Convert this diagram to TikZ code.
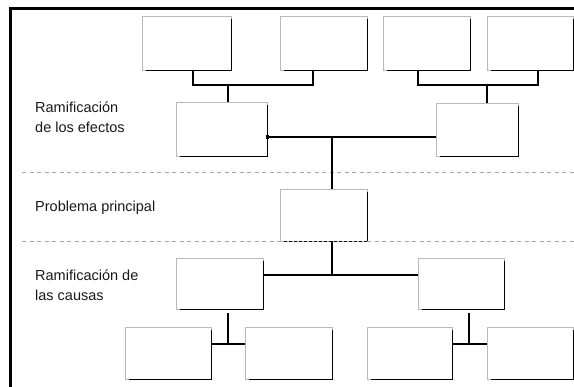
\documentclass[tikz,border=0pt]{standalone}
\usepackage{fontspec}
\setmainfont{Liberation Sans}
\begin{document}
\begin{tikzpicture}[x=1pt,y=-1pt,
  box/.style={draw=gray!55, line width=0.8pt, fill=white, inner sep=0pt,
              minimum width=87pt, minimum height=54pt},
  rim/.style={black, line width=1.3pt},
  conn/.style={black, line width=1.9pt},
  sep/.style={gray!70, line width=0.8pt, dash pattern=on 4pt off 3.5pt},
  lbl/.style={anchor=base west, inner sep=0pt, font=\fontsize{14.5}{17}\selectfont, text=black!90}]
\useasboundingbox (0,0) rectangle (574,387);

% outer frame (only top and left edges visible)
\draw[black, line width=2.2pt] (10.5,387) -- (10.5,8.5) -- (574,8.5);

% band separators
\draw[sep] (22,172) -- (574,172);
\draw[sep] (22,241) -- (574,241);

% effects: top row
\node[box, minimum width=89pt] (t1) at (186.5,43) {};
\node[box] (t2) at (323.5,43) {};
\node[box] (t3) at (426.5,43) {};
\node[box, minimum width=86pt] (t4) at (530,43) {};
% effects: second row
\node[box, minimum width=91pt] (e1) at (221.5,129) {};
\node[box, minimum width=82pt, minimum height=53pt] (e2) at (477,129.5) {};
% main problem
\node[box, minimum height=52pt] (m) at (323.5,215) {};
% causes
\node[box, minimum height=51pt] (c1) at (219.5,283.5) {};
\node[box, minimum width=86pt, minimum height=51pt] (c2) at (461,283.5) {};
% causes: bottom row
\node[box, minimum width=86pt, minimum height=52pt] (b1) at (168,353) {};
\node[box, minimum height=52pt] (b2) at (288.5,353) {};
\node[box, minimum width=85pt, minimum height=52pt] (b3) at (409.5,353) {};
\node[box, minimum width=86pt, minimum height=52pt] (b4) at (530,353) {};

% dark right/bottom rims
\foreach \n in {t1,t2,t3,t4,e1,e2,c1,c2,b1,b2,b3,b4}
  \draw[rim] ([yshift=-3pt]\n.north east) -- (\n.south east) -- ([xshift=4pt]\n.south west);
\draw[rim] ([yshift=-3pt]m.north east) -- (m.south east);
\draw[black, line width=1.6pt, dash pattern=on 3pt off 2pt] (m.south east) -- ([xshift=3pt]m.south west);

% junction points
\coordinate (j1) at (228,85);
\coordinate (j2) at (487,85);
\coordinate (j3) at (332,137);
\coordinate (j4) at (332,275);
\coordinate (j5) at (228,344);
\coordinate (j6) at (469,344);

% effect branches
\draw[conn] ([xshift=6.5pt]t1.south) |- (j1) -| ([xshift=-10.5pt]t2.south);
\draw[conn] (j1) -- (j1 |- e1.north);
\draw[conn] ([xshift=-8.5pt]t3.south) |- (j2) -| ([xshift=8pt]t4.south);
\draw[conn] (j2) -- (j2 |- e2.north);
\draw[conn] (e1.east |- j3) -- (e2.west |- j3);
\fill (e1.east |- j3) ++(-1.8,-1.8) rectangle ++(3.6,3.6);
\draw[conn] (j3) -- (j3 |- m.north);

% cause branches
\draw[conn] (j3 |- m.south) -- (j4);
\draw[conn] (c1.east |- j4) -- (c2.west |- j4);
\draw[conn] ([yshift=-4pt]j5 |- c1.south) -- (j5);
\draw[conn] (b1.east |- j5) -- (b2.west |- j5);
\draw[conn] ([yshift=-4pt]j6 |- c2.south) -- (j6);
\draw[conn] (b3.east |- j6) -- (b4.west |- j6);

% band labels
\node[lbl] (l1) at (35,113) {Ramificación};
\node[lbl] (l2) at (35,133) {de los efectos};
\node[lbl] (l3) at (35,212) {Problema principal};
\node[lbl] (l4) at (35,281) {Ramificación de};
\node[lbl] (l5) at (35,301) {las causas};
\end{tikzpicture}
\end{document}
